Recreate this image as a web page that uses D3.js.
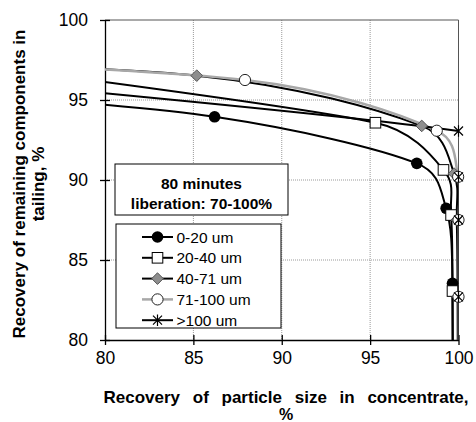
<!DOCTYPE html>
<html><head><meta charset="utf-8">
<script src="https://cdn.jsdelivr.net/npm/d3@7"></script>
<style>
body{margin:0;background:#fff}
svg{display:block}
text{font-family:"Liberation Sans",Arial,Helvetica,sans-serif;fill:#000}
</style>
</head><body>
<svg id="chart" width="476" height="422"></svg>
<script>
// ---- data ----
const xTicks = [80, 85, 90, 95, 100];
const yTicks = [80, 85, 90, 95, 100];
const seriesNames = ["0-20 um", "20-40 um", "40-71 um", "71-100 um", ">100 um"];
// points outside 80..100 are the off-axis data the lines continue to
const x_0_20   = [70, 86.2, 97.64, 99.3, 99.66, 99.68];
const y_0_20   = [95.6, 93.95, 91.04, 88.23, 83.54, 60];
const x_20_40  = [70, 95.3, 99.15, 99.58, 99.66, 99.75];
const y_20_40  = [97.6, 93.58, 90.63, 87.81, 83.06, 60];
const x_40_71  = [60, 85.19, 97.92, 99.75, 99.9, 99.95, 100];
const y_40_71  = [97.6, 96.52, 93.38, 90.4, 87.5, 82.7, 60];
const x_71_100 = [60, 87.92, 98.77, 99.98, 100, 100, 100];
const y_71_100 = [97.9, 96.25, 93.08, 90.2, 87.5, 82.7, 60];
const x_100    = [40, 100, 100, 100, 100, 100];
const y_100    = [99.5, 93.06, 90.2, 87.5, 82.7, 60];
const annotation = ["80 minutes", "liberation: 70-100%"];
const xTitle = ["Recovery of particle size in concentrate,", "%"];
const yTitle = ["Recovery of remaining components in", "tailing, %"];

const xs = [x_0_20, x_20_40, x_40_71, x_71_100, x_100];
const ys = [y_0_20, y_20_40, y_40_71, y_71_100, y_100];
const styles = [
  {line: "#000", lw: 2, marker: "dot"},
  {line: "#000", lw: 2, marker: "square"},
  {line: "#000", lw: 2, marker: "diamond"},
  {line: "#a8a8a8", lw: 2.5, marker: "circle"},
  {line: "#000", lw: 2, marker: "star"}
];
const series = seriesNames.map((n, i) => ({
  name: n, style: styles[i],
  pts: xs[i].map((v, j) => ({x: v, y: ys[i][j]}))
}));

// ---- spreadsheet-style smoothed curve (Catmull-Rom 1/6 handles, capped) ----
function SmoothCurve(context) { this._context = context; }
SmoothCurve.prototype = {
  areaStart() {}, areaEnd() {},
  lineStart() { this._pts = []; },
  point(px, py) { this._pts.push([+px, +py]); },
  lineEnd() {
    const p = this._pts, n = p.length, c = this._context, K = 0.45;
    if (!n) return;
    c.moveTo(p[0][0], p[0][1]);
    for (let i = 0; i < n - 1; i++) {
      const p0 = p[Math.max(i - 1, 0)], p1 = p[i], p2 = p[i + 1], p3 = p[Math.min(i + 2, n - 1)];
      const d12 = Math.hypot(p2[0] - p1[0], p2[1] - p1[1]);
      let h1 = [(p2[0] - p0[0]) / 6, (p2[1] - p0[1]) / 6];
      let h2 = [(p3[0] - p1[0]) / 6, (p3[1] - p1[1]) / 6];
      const cap = d12 * K, l1 = Math.hypot(h1[0], h1[1]), l2 = Math.hypot(h2[0], h2[1]);
      if (l1 > cap) h1 = [h1[0] * cap / l1, h1[1] * cap / l1];
      if (l2 > cap) h2 = [h2[0] * cap / l2, h2[1] * cap / l2];
      c.bezierCurveTo(p1[0] + h1[0], p1[1] + h1[1], p2[0] - h2[0], p2[1] - h2[1], p2[0], p2[1]);
    }
  }
};
const curveSmooth = ctx => new SmoothCurve(ctx);

// ---- layout ----
const svg = d3.select("#chart");
const L = 105, R = 458.5, T = 20, B = 340;
const x = d3.scaleLinear().domain([80, 100]).range([L, R]);
const y = d3.scaleLinear().domain([80, 100]).range([B, T]);
const FONT = '"Liberation Sans",Arial,Helvetica,sans-serif';

const defs = svg.append("defs");
defs.append("clipPath").attr("id", "plotClip").append("rect")
  .attr("x", L).attr("y", T).attr("width", R - L).attr("height", B - T);
defs.append("clipPath").attr("id", "markClip").append("rect")
  .attr("x", L - 2).attr("y", T - 8).attr("width", R - L + 20).attr("height", B - T + 14);

// gridlines
const grid = svg.append("g");
grid.selectAll("line.gx").data(xTicks.slice(1, -1)).join("line")
  .attr("x1", d => x(d)).attr("x2", d => x(d)).attr("y1", T).attr("y2", B)
  .attr("stroke", "#9a9a9a").attr("stroke-width", 1).attr("stroke-dasharray", "1,1");
grid.selectAll("line.gy").data(yTicks.slice(1, -1)).join("line")
  .attr("x1", L).attr("x2", R).attr("y1", d => y(d)).attr("y2", d => y(d))
  .attr("stroke", "#9a9a9a").attr("stroke-width", 1).attr("stroke-dasharray", "1,1");

// plot border (top, right)
svg.append("path").attr("d", `M${L},${T}H${R}V${B}`)
  .attr("fill", "none").attr("stroke", "#555").attr("stroke-width", 1);

// axes
const xAxis = d3.axisBottom(x).tickValues(xTicks).tickFormat(d3.format("d"))
  .tickSizeInner(5).tickSizeOuter(0).tickPadding(6);
const yAxis = d3.axisLeft(y).tickValues(yTicks).tickFormat(d3.format("d"))
  .tickSizeInner(5).tickSizeOuter(0).tickPadding(12);
const gx = svg.append("g").attr("transform", `translate(0,${B})`).call(xAxis);
const gy = svg.append("g").attr("transform", `translate(${L},0)`).call(yAxis);
[gx, gy].forEach(g => {
  g.select(".domain").attr("stroke", "#000").attr("stroke-width", 1.3);
  g.selectAll(".tick line").attr("stroke", "#000").attr("stroke-width", 1.3);
  g.selectAll(".tick text").attr("font-family", FONT).attr("font-size", 17.5).attr("fill", "#000");
});
gx.selectAll(".tick line").attr("y1", -5).attr("y2", 5);
gx.selectAll(".tick text").attr("y", 12);
gy.selectAll(".tick line").attr("x1", 5).attr("x2", -5);
gy.selectAll(".tick text").attr("x", -17);

// lines
const lineGen = d3.line().x(d => x(d.x)).y(d => y(d.y)).curve(curveSmooth);
const gl = svg.append("g").attr("clip-path", "url(#plotClip)");
const gm = svg.append("g").attr("clip-path", "url(#markClip)");

function drawMarker(g, type, cx, cy) {
  if (type === "dot") {
    g.append("circle").attr("cx", cx).attr("cy", cy).attr("r", 5.8).attr("fill", "#000");
  } else if (type === "square") {
    g.append("rect").attr("x", cx - 5.3).attr("y", cy - 5.3).attr("width", 10.6).attr("height", 10.6)
      .attr("fill", "#fff").attr("stroke", "#000").attr("stroke-width", 1);
  } else if (type === "diamond") {
    g.append("path").attr("d", `M${cx},${cy - 5.8}L${cx + 5.8},${cy}L${cx},${cy + 5.8}L${cx - 5.8},${cy}Z`)
      .attr("fill", "#8e8e8e").attr("stroke", "#555").attr("stroke-width", 1);
  } else if (type === "circle") {
    g.append("circle").attr("cx", cx).attr("cy", cy).attr("r", 5.6)
      .attr("fill", "#fff").attr("stroke", "#222").attr("stroke-width", 1);
  } else if (type === "star") {
    const a = 4.5, v = 5.8;
    g.append("path").attr("d", `M${cx - a},${cy - a}L${cx + a},${cy + a}M${cx - a},${cy + a}L${cx + a},${cy - a}M${cx},${cy - v}L${cx},${cy + v}`)
      .attr("stroke", "#000").attr("stroke-width", 1.2).attr("fill", "none");
  }
}

series.forEach(s => {
  gl.append("path").datum(s.pts).attr("d", lineGen)
    .attr("fill", "none").attr("stroke", s.style.line).attr("stroke-width", s.style.lw)
    .attr("stroke-linejoin", "round");
  s.pts.forEach(p => drawMarker(gm, s.style.marker, x(p.x), y(p.y)));
});

// annotation box
const ab = svg.append("g");
ab.append("rect").attr("x", 115).attr("y", 164).attr("width", 173).attr("height", 51)
  .attr("fill", "#fff").attr("stroke", "#000").attr("stroke-width", 1);
ab.selectAll("text").data(annotation).join("text")
  .attr("x", 201.5).attr("y", (d, i) => 188.5 + i * 20)
  .attr("text-anchor", "middle").attr("font-size", 15.5).attr("font-weight", "bold")
  .text(d => d);

// legend
const lg = svg.append("g");
lg.append("rect").attr("x", 116).attr("y", 224).attr("width", 165).attr("height", 104)
  .attr("fill", "#fff").attr("stroke", "#000").attr("stroke-width", 1);
series.forEach((s, i) => {
  const cy = 237 + i * 20.8;
  lg.append("line").attr("x1", 142).attr("x2", 173).attr("y1", cy).attr("y2", cy)
    .attr("stroke", s.style.line).attr("stroke-width", s.style.lw);
  drawMarker(lg, s.style.marker, 157.5, cy);
  lg.append("text").attr("x", 176.5).attr("y", cy + 5.5).attr("font-size", 15.5).text(s.name);
});

// axis titles
svg.append("text").attr("x", 286).attr("y", 403).attr("text-anchor", "middle")
  .attr("font-size", 17).attr("font-weight", "bold").attr("word-spacing", 8)
  .text(xTitle[0]);
svg.append("text").attr("x", 286).attr("y", 420).attr("text-anchor", "middle")
  .attr("font-size", 16).attr("font-weight", "bold").text(xTitle[1]);
yTitle.forEach((t, i) => {
  svg.append("text").attr("transform", `translate(${25 + i * 19},${184}) rotate(-90)`)
    .attr("text-anchor", "middle").attr("font-size", 17).attr("font-weight", "bold").text(t);
});
</script>
</body></html>
